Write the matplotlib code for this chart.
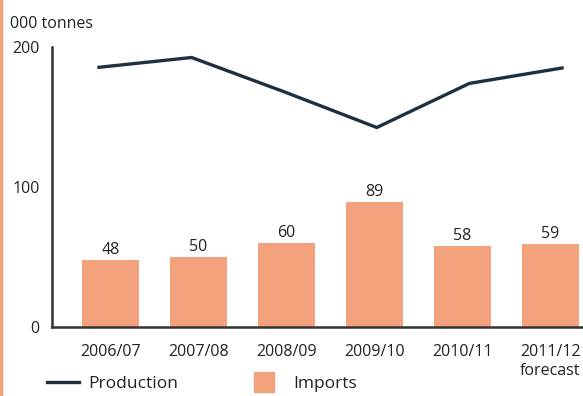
import matplotlib
matplotlib.use("Agg")
import matplotlib.pyplot as plt
from matplotlib.lines import Line2D
import numpy as np

categories = ["2006/07", "2007/08", "2008/09", "2009/10", "2010/11", "2011/12\nforecast"]
imports = [48, 50, 60, 89, 58, 59]
production = [185.5, 192.5, 168, 142.5, 174, 185]

plt.rcParams['font.family'] = ['Open Sans', 'DejaVu Sans']
BAR = "#F4A27C"
LINE = "#1E2F3F"
TXT = "#222222"
FS = 11.5

fig = plt.figure(figsize=(5.83, 3.96), dpi=100)
ax = fig.add_axes([52/583, 1-327/396, 1-52/583, (327-47)/396])
x = np.arange(len(categories))
bars = ax.bar(x, imports, width=0.655, color=BAR, zorder=2)
for xi, v in zip(x, imports):
    ax.text(xi, v + 1.5, str(v), ha='center', va='bottom', fontsize=FS, color=TXT)
ax.set_xlim((52-110.5)/88, (583-110.5)/88)
ax.set_ylim(0, 200)
ax.set_yticks([0, 100, 200])
ax.set_xticks(x)
ax.set_xticklabels(categories, fontsize=FS, color=TXT, linespacing=1.2)
ax.tick_params(axis='both', length=0, labelsize=FS, colors=TXT)
ax.tick_params(axis='x', pad=12.5)
ax.tick_params(axis='y', pad=9)
for s in ['top', 'right']:
    ax.spines[s].set_visible(False)
for s in ['left', 'bottom']:
    ax.spines[s].set_color("#333333")
    ax.spines[s].set_linewidth(1.8)

# line on its own category scale (line points spread wider than bars)
ax2 = ax.twiny()
ax2.set_xlim((52-99)/92.6, (583-99)/92.6)
ax2.plot(x, production, color=LINE, lw=2.4, solid_joinstyle='miter', zorder=3)
ax2.axis('off')

fig.text(10/583, 1-24/396, "000 tonnes", fontsize=FS, color=TXT, va='center', ha='left')

# left orange border
fig.add_artist(Line2D([0.002, 0.002], [0, 1], color="#F4A27C", lw=2.5, transform=fig.transFigure))

LFS = 12.5
leg1 = fig.legend([Line2D([], [], color=LINE, lw=2.4)], ["Production"], loc='center left',
                  bbox_to_anchor=(47/583, 1-384/396), frameon=False,
                  fontsize=LFS, handlelength=1.85, handletextpad=0.5,
                  labelcolor=TXT, borderpad=0, borderaxespad=0)
leg2 = fig.legend([Line2D([], [], color=BAR, marker='s', markersize=14.5, linestyle='none')],
                  ["Imports"], loc='center left',
                  bbox_to_anchor=(248/583, 1-384/396), frameon=False,
                  fontsize=LFS, handlelength=1.85, handletextpad=0.75,
                  labelcolor=TXT, borderpad=0, borderaxespad=0)

fig.savefig("out.png", dpi=100)
